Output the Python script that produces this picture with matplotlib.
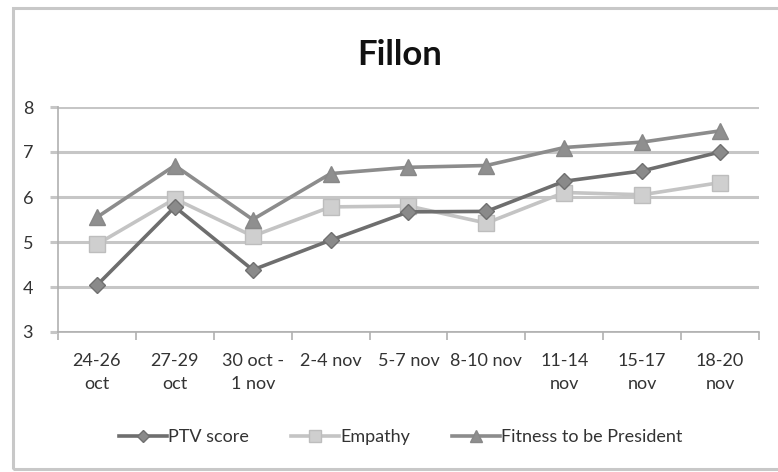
import matplotlib
matplotlib.use('Agg')
import matplotlib.pyplot as plt
import numpy as np
from matplotlib.patches import Rectangle

plt.rcParams['font.family'] = ['Lato', 'DejaVu Sans']

categories = ['24-26\noct', '27-29\noct', '30 oct -\n1 nov', '2-4 nov', '5-7 nov',
              '8-10 nov', '11-14\nnov', '15-17\nnov', '18-20\nnov']
ptv_score = [4.04, 5.78, 4.38, 5.04, 5.67, 5.68, 6.35, 6.58, 7.0]
empathy = [4.95, 5.96, 5.13, 5.78, 5.80, 5.42, 6.10, 6.05, 6.32]
fitness = [5.55, 6.70, 5.50, 6.52, 6.66, 6.70, 7.10, 7.22, 7.47]

fig = plt.figure(figsize=(7.78, 4.72), dpi=100)
fig.patch.set_facecolor('white')

# chart area frame (right side runs off the image)
fig.patches.append(Rectangle((13 / 778, 3 / 472), 1.0, 1 - 11 / 472,
                             transform=fig.transFigure, fill=False,
                             edgecolor='#c8c8c8', linewidth=2.2))

ax = fig.add_axes([58 / 778, 1 - 332 / 472, (759 - 58) / 778, (332 - 107) / 472])
x = np.arange(len(categories))

ax.plot(x, ptv_score, color='#6e6e6e', lw=2.6, marker='D', ms=8,
        mfc='#8a8a8a', mec='#707070', label='PTV score', zorder=4)
ax.plot(x, empathy, color='#c4c4c4', lw=2.6, marker='s', ms=11,
        mfc='#cfcfcf', mec='#bdbdbd', label='Empathy', zorder=3)
ax.plot(x, fitness, color='#8c8c8c', lw=2.6, marker='^', ms=11,
        mfc='#8f8f8f', mec='#888888', label='Fitness to be President', zorder=3)

ax.set_xlim(-0.5, len(categories) - 0.5)
ax.set_ylim(3, 8)
ax.set_yticks([3, 4, 5, 6, 7, 8])
ax.yaxis.grid(True, color='#c6c6c6', lw=2.2)
ax.set_axisbelow(True)

ax.set_xticks(x)
ax.set_xticklabels(categories, fontsize=13, color='#333333', linespacing=1.55)
ax.set_xticks(np.arange(-0.5, len(categories)), minor=True)
ax.tick_params(axis='x', which='major', length=0, pad=15)
ax.tick_params(axis='x', which='minor', length=6, width=1.2, color='#b0b0b0')
ax.tick_params(axis='y', length=6, width=2.2, color='#c6c6c6', labelsize=13,
               labelcolor='#333333', pad=12)

for side in ['top', 'right']:
    ax.spines[side].set_visible(False)
ax.spines['left'].set_color('#b0b0b0')
ax.spines['left'].set_linewidth(1.2)
ax.spines['bottom'].set_color('#b0b0b0')
ax.spines['bottom'].set_linewidth(1.2)

fig.text(0.514, 1 - 55 / 472, 'Fillon', ha='center', va='center',
         fontsize=25, fontweight='bold', color='#111111')

fig.legend(loc='center', bbox_to_anchor=(0.515, 1 - 437 / 472), ncol=3,
           frameon=False, fontsize=13, handlelength=2.7, handletextpad=0.05,
           columnspacing=2.3, markerscale=0.75, labelcolor='#333333')

fig.savefig('out.png', dpi=100, facecolor='white')
